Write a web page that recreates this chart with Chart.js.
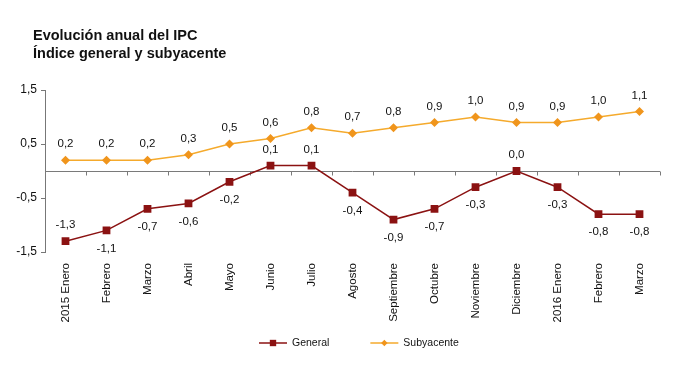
<!DOCTYPE html>
<html>
<head>
<meta charset="utf-8">
<script src="https://cdn.jsdelivr.net/npm/chart.js@4/dist/chart.umd.min.js"></script>
<style>
html,body{margin:0;padding:0;background:#fff;}
#wrap{position:relative;width:676px;height:381px;}
#ttl{position:absolute;left:33px;top:27px;font:bold 14.5px/17.5px 'Liberation Sans',Arial,sans-serif;color:#111;}
canvas{display:block;}
</style>
</head>
<body>
<div id="wrap">
  <div id="ttl">Evolución anual del IPC<br>Índice general y subyacente</div>
  <canvas id="c" width="676" height="381"></canvas>
</div>
<script>
/* ===== Datos IPC ===== */
const meses=['2015 Enero','Febrero','Marzo','Abril','Mayo','Junio','Julio','Agosto','Septiembre','Octubre','Noviembre','Diciembre','2016 Enero','Febrero','Marzo'];
const general=[-1.3,-1.1,-0.7,-0.6,-0.2,0.1,0.1,-0.4,-0.9,-0.7,-0.3,0.0,-0.3,-0.8,-0.8];
const subyacente=[0.2,0.2,0.2,0.3,0.5,0.6,0.8,0.7,0.8,0.9,1.0,0.9,0.9,1.0,1.1];
const yTicks=[-1.5,-0.5,0.5,1.5];
// a = etiqueta arriba, b = abajo
const posGeneral=['a','b','b','b','b','a','a','b','b','b','b','a','b','b','b'];

const FONT="'Liberation Sans', Arial, sans-serif";
const fmt=v=>v.toFixed(1).replace('.',',');
Chart.defaults.font.family=FONT;

function marker(ctx,style,x,y,r,color){
  ctx.fillStyle=color;
  ctx.beginPath();
  if(style==='rect'){const s=r*Math.SQRT1_2;ctx.rect(x-s,y-s,2*s,2*s);}
  else{const s=r*0.8;ctx.moveTo(x-s,y);ctx.lineTo(x,y-s);ctx.lineTo(x+s,y);ctx.lineTo(x,y+s);ctx.closePath();}
  ctx.fill();
}

// linea del cero con marcas entre categorias
const ejeCero={id:'ejeCero',beforeDatasetsDraw(ch){
  const {ctx,chartArea:ca,scales:{x,y}}=ch;
  const y0=Math.round(y.getPixelForValue(0))+0.5;
  const w=x.getPixelForValue(1)-x.getPixelForValue(0);
  ctx.save();
  ctx.strokeStyle='#7a7a7a';ctx.lineWidth=1;
  ctx.beginPath();
  ctx.moveTo(ca.left,y0);ctx.lineTo(ca.right,y0);
  for(let i=0;i<=meses.length;i++){
    const xx=Math.round(x.getPixelForValue(0)-w/2+i*w)+0.5;
    ctx.moveTo(xx,y0);ctx.lineTo(xx,y0+4);
  }
  ctx.stroke();
  ctx.restore();
}};

const etiquetas={id:'etiquetas',afterDatasetsDraw(ch){
  const ctx=ch.ctx;
  ctx.save();
  ctx.font='11.5px '+FONT;ctx.fillStyle='#111';
  ctx.textAlign='center';ctx.textBaseline='middle';
  ch.data.datasets.forEach((ds,di)=>{
    ch.getDatasetMeta(di).data.forEach((pt,i)=>{
      const arriba=ds.posiciones?ds.posiciones[i]==='a':true;
      ctx.fillText(fmt(ds.data[i]),pt.x,pt.y+(arriba?-16:18));
    });
  });
  ctx.restore();
}};

const leyenda={id:'leyenda',afterDraw(ch){
  const ctx=ch.ctx;const y=343;let x=259;
  ctx.save();
  ctx.font='10.5px '+FONT;ctx.textBaseline='middle';ctx.textAlign='left';
  ch.data.datasets.forEach(ds=>{
    ctx.strokeStyle=ds.borderColor;ctx.lineWidth=1.5;
    ctx.beginPath();ctx.moveTo(x,y);ctx.lineTo(x+28,y);ctx.stroke();
    marker(ctx,ds.pointStyle,x+14,y,ds.pointStyle==='rect'?4.5:4,ds.pointBackgroundColor);
    ctx.fillStyle='#111';
    ctx.fillText(ds.label,x+33,y);
    x+=33+ctx.measureText(ds.label).width+41;
  });
  ctx.restore();
}};

new Chart(document.getElementById('c'),{
  type:'line',
  data:{labels:meses,datasets:[
    {label:'General',data:general,posiciones:posGeneral,borderColor:'#8b1212',backgroundColor:'#8b1212',
      pointBackgroundColor:'#8b1212',pointBorderColor:'#8b1212',borderWidth:1.5,pointStyle:'rect',pointRadius:5.5,pointBorderWidth:0},
    {label:'Subyacente',data:subyacente,borderColor:'#f5aa2c',backgroundColor:'#f5aa2c',
      pointBackgroundColor:'#f0951c',pointBorderColor:'#f0951c',borderWidth:1.5,pointStyle:'rectRot',pointRadius:4.5,pointBorderWidth:0}
  ]},
  options:{
    responsive:false,animation:false,
    layout:{padding:{left:15,right:16,top:90,bottom:49}},
    plugins:{legend:{display:false},tooltip:{enabled:false}},
    scales:{
      x:{type:'category',offset:true,grid:{display:false},border:{display:false},
        ticks:{autoSkip:false,minRotation:90,maxRotation:90,padding:3,color:'#111',font:{size:11.5}},
        afterFit:s=>{s.height=80;}},
      y:{min:-1.5,max:1.5,
        afterBuildTicks:s=>{s.ticks=yTicks.map(v=>({value:v}));},
        grid:{drawOnChartArea:false,drawTicks:true,tickLength:4,color:'#777'},
        border:{color:'#777'},
        ticks:{padding:4,color:'#111',font:{size:12},callback:v=>fmt(v)},
        afterFit:s=>{s.width=30;}}
    }
  },
  plugins:[ejeCero,etiquetas,leyenda]
});
</script>
</body>
</html>
